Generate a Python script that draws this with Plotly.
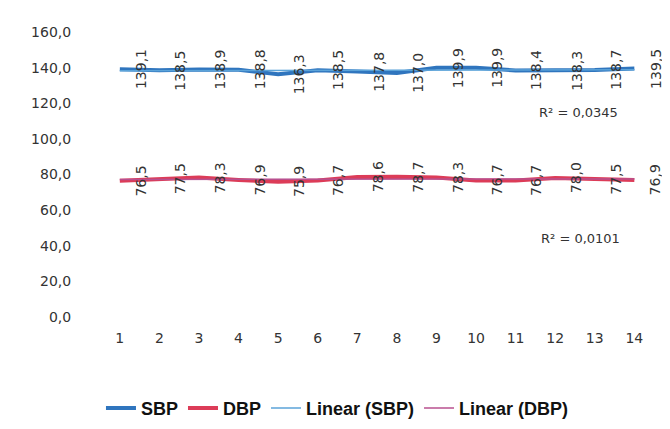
import numpy as np
import plotly.graph_objects as go

x = list(range(1, 15))
sbp = [139.1, 138.5, 138.9, 138.8, 136.3, 138.5, 137.8, 137.0, 139.9, 139.9, 138.4, 138.3, 138.7, 139.5]
dbp = [76.5, 77.5, 78.3, 76.9, 75.9, 76.7, 78.6, 78.7, 78.3, 76.7, 76.7, 78.0, 77.5, 76.9]
y_ticks = [0, 20, 40, 60, 80, 100, 120, 140, 160]
r2_labels = ["R² = 0,0345", "R² = 0,0101"]
r2_pos = [(12.6, 115), (12.65, 44)]

def fmt(v):
    return f"{v:.1f}".replace(".", ",")

xa = np.array(x, dtype=float)
s_fit = np.polyval(np.polyfit(xa, sbp, 1), xa)
d_fit = np.polyval(np.polyfit(xa, dbp, 1), xa)

fig = go.Figure()
fig.add_trace(go.Scatter(x=x, y=sbp, mode="lines", name="SBP",
                         line=dict(color="#2F75BE", width=4)))
fig.add_trace(go.Scatter(x=x, y=dbp, mode="lines", name="DBP",
                         line=dict(color="#DC3C58", width=4)))
fig.add_trace(go.Scatter(x=x, y=s_fit, mode="lines", name="Linear (SBP)",
                         line=dict(color="#5BA3D9", width=1.5)))
fig.add_trace(go.Scatter(x=x, y=d_fit, mode="lines", name="Linear (DBP)",
                         line=dict(color="#B8508F", width=1.5)))

lab_font = dict(size=14, color="#333333", family="DejaVu Sans")
ann = []
for xi, v in zip(x, sbp):
    ann.append(dict(x=xi, y=v, text=fmt(v), textangle=-90, showarrow=False,
                    xshift=21, font=lab_font))
for xi, v in zip(x, dbp):
    ann.append(dict(x=xi, y=v, text=fmt(v), textangle=-90, showarrow=False,
                    xshift=21, font=lab_font))
for t, (px, py) in zip(r2_labels, r2_pos):
    ann.append(dict(x=px, y=py, text=t, showarrow=False,
                    font=dict(size=13, color="#333333", family="DejaVu Sans")))

fig.update_layout(
    width=670, height=429,
    margin=dict(l=95, r=10, t=24, b=106),
    paper_bgcolor="white", plot_bgcolor="white",
    separators=",.",
    showlegend=True,
    legend=dict(orientation="h", x=0.415, y=-0.32, xanchor="center", yanchor="middle",
                font=dict(size=18, color="#111111", family="Liberation Sans"),
                tracegroupgap=0),
    annotations=ann,
    xaxis=dict(range=[0.575, 14.85], tickvals=x, ticktext=[str(i) for i in x],
               showgrid=False, zeroline=False, showline=False,
               ticks="outside", ticklen=8, tickcolor="rgba(0,0,0,0)",
               tickfont=dict(size=14, color="#333333", family="DejaVu Sans")),
    yaxis=dict(range=[0, 160], tickvals=y_ticks, tickformat=".1f",
               showgrid=False, zeroline=False, showline=False,
               ticks="outside", ticklen=28, tickcolor="rgba(0,0,0,0)",
               tickfont=dict(size=14, color="#333333", family="DejaVu Sans")),
)
for a in fig.layout.annotations:
    a.update(xref="x", yref="y")
for i, name in enumerate(["SBP", "DBP", "Linear (SBP)", "Linear (DBP)"]):
    fig.data[i].name = f"<b>{name}</b>"

fig.write_html("out.html")
